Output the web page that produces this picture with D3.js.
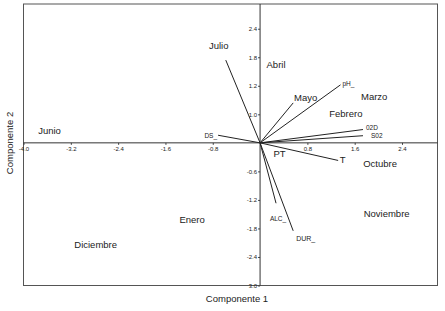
<!DOCTYPE html>
<html>
<head>
<meta charset="utf-8">
<script src="https://cdn.jsdelivr.net/npm/d3@7"></script>
<style>
  body { margin: 0; background: #fff; }
  text { font-family: "Liberation Sans", Arial, sans-serif; fill: #222; }
</style>
</head>
<body>
<div id="chart"></div>
<script>
// meses (scores)
var meses = ["Junio", "Julio", "Abril", "Mayo", "Marzo", "Febrero", "Octubre", "Noviembre", "Enero", "Diciembre", "PT"];
var mesesX = [-3.56, -0.70, 0.27, 0.77, 1.93, 1.45, 2.03, 2.14, -1.15, -2.78, 0.33];
var mesesY = [0.25, 2.05, 1.65, 0.95, 0.97, 0.62, -0.44, -1.49, -1.62, -2.14, -0.23];

// variables (loadings)
var variables = ["pH_", "02D", "S02", "T", "DS_", "ALC_", "DUR_", "", ""];
var varX = [1.36, 1.74, 1.74, 1.32, -0.71, 0.27, 0.56, -0.58, 0.56];
var varY = [1.22, 0.28, 0.15, -0.37, 0.16, -1.27, -1.85, 1.74, 0.84];

// ticks
var xTicks = [-4.0, -3.2, -2.4, -1.6, -0.8, 0.8, 1.6, 2.4];
var xTickLabels = ["-4.0", "-3.2", "-2.4", "-1.6", "-0.8", "0.8", "1.6", "2.4"];
var yTicks = [2.4, 1.8, 1.2, 0.6, -0.6, -1.2, -1.8, -2.4, -3.0];
var yTickLabels = ["2.4", "1.8", "1.2", "1.0", "-0.6", "-1.2", "-1.8", "-2.4", "3.0"];

var W = 445, H = 311;
var margin = {left: 23.5, right: 7.5, top: 4, bottom: 25.5};

var svg = d3.select("#chart").append("svg")
    .attr("width", W)
    .attr("height", H);

var x = d3.scaleLinear().domain([-4.0, 3.0]).range([margin.left, W - margin.right]);
var y = d3.scaleLinear().domain([-3.0, 2.92]).range([H - margin.bottom, margin.top]);

// marco
svg.append("rect")
    .attr("x", margin.left)
    .attr("y", margin.top)
    .attr("width", W - margin.left - margin.right)
    .attr("height", H - margin.top - margin.bottom)
    .attr("fill", "none")
    .attr("stroke", "#555")
    .attr("stroke-width", 1);

// ejes por el origen
var xAxis = svg.append("g")
    .attr("transform", "translate(0," + y(0) + ")")
    .call(d3.axisBottom(x).tickValues(xTicks).tickSize(2)
        .tickFormat((d, i) => xTickLabels[i]));
xAxis.select(".domain").remove();
xAxis.selectAll("text").attr("font-size", 6).attr("dy", "0.5em").attr("fill", "#333");
xAxis.selectAll("line").attr("stroke", "#444");

var yAxis = svg.append("g")
    .attr("transform", "translate(" + x(0) + ",0)")
    .call(d3.axisLeft(y).tickValues(yTicks).tickSize(2).tickPadding(1)
        .tickFormat((d, i) => yTickLabels[i]));
yAxis.select(".domain").remove();
yAxis.selectAll("text").attr("font-size", 6).attr("fill", "#333");
yAxis.selectAll("line").attr("stroke", "#444");

svg.append("line")
    .attr("x1", margin.left).attr("x2", W - margin.right)
    .attr("y1", y(0)).attr("y2", y(0))
    .attr("stroke", "#333").attr("stroke-width", 1);
svg.append("line")
    .attr("x1", x(0)).attr("x2", x(0))
    .attr("y1", margin.top).attr("y2", H - margin.bottom)
    .attr("stroke", "#333").attr("stroke-width", 1);

// vectores
var vecs = variables.map((d, i) => ({name: d, x: varX[i], y: varY[i]}));
svg.selectAll(".vec")
    .data(vecs)
    .enter()
    .append("line")
    .attr("class", "vec")
    .attr("x1", x(0)).attr("y1", y(0))
    .attr("x2", d => x(d.x)).attr("y2", d => y(d.y))
    .attr("stroke", "#222")
    .attr("stroke-width", 1);

// estilos de etiqueta para cada vector
var estilo = {
    "pH_":  {anchor: "start",  dx: 2, dy: -1, size: 6.5},
    "02D":  {anchor: "start",  dx: 3, dy: -1.5, size: 6.5},
    "S02":  {anchor: "start",  dx: 8, dy: 0, size: 6.5},
    "T":    {anchor: "start",  dx: 1.5, dy: -1, size: 9.5},
    "DS_":  {anchor: "end",    dx: -1, dy: 0, size: 6.5},
    "ALC_": {anchor: "middle", dx: 2, dy: 15, size: 6.5},
    "DUR_": {anchor: "start",  dx: 3, dy: 8, size: 7}
};
svg.selectAll(".vlab")
    .data(vecs.filter(d => d.name !== ""))
    .enter()
    .append("text")
    .attr("class", "vlab")
    .attr("x", d => x(d.x) + estilo[d.name].dx)
    .attr("y", d => y(d.y) + estilo[d.name].dy)
    .attr("dy", "0.35em")
    .attr("text-anchor", d => estilo[d.name].anchor)
    .attr("font-size", d => estilo[d.name].size)
    .text(d => d.name);

// meses
svg.selectAll(".mes")
    .data(meses.map((d, i) => ({name: d, x: mesesX[i], y: mesesY[i]})))
    .enter()
    .append("text")
    .attr("class", "mes")
    .attr("x", d => x(d.x))
    .attr("y", d => y(d.y))
    .attr("dy", "0.35em")
    .attr("text-anchor", "middle")
    .attr("font-size", 9.5)
    .text(d => d.name);

// titulos
svg.append("text")
    .attr("x", 237)
    .attr("y", 299)
    .attr("dy", "0.35em")
    .attr("text-anchor", "middle")
    .attr("font-size", 9.5)
    .text("Componente 1");
svg.append("text")
    .attr("transform", "translate(10," + 143 + ") rotate(-90)")
    .attr("dy", "0.35em")
    .attr("text-anchor", "middle")
    .attr("font-size", 9.5)
    .text("Componente 2");
</script>
</body>
</html>
